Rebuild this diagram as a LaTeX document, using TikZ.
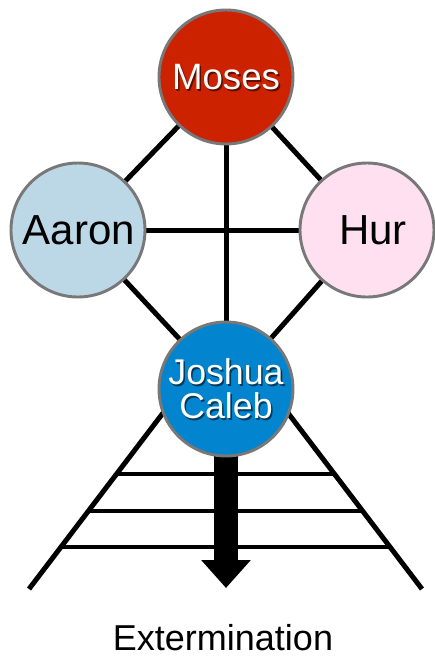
\documentclass[tikz,border=0pt]{standalone}
\usepackage{fontspec}
\setmainfont{Liberation Sans}
\usetikzlibrary{backgrounds,arrows.meta,calc}
\definecolor{mosesred}{RGB}{204,34,0}
\definecolor{aaronblue}{RGB}{188,215,230}
\definecolor{hurpink}{RGB}{255,224,240}
\definecolor{joshblue}{RGB}{2,132,207}
\definecolor{rimgray}{RGB}{120,120,120}
\tikzset{
  person/.style={circle, draw=rimgray, line width=2.2pt, minimum size=100.5pt, inner sep=0pt, align=center},
  link/.style={line width=3.75pt, black},
  rung/.style={line width=3.6pt, black},
  shadowtxt/.style={text=black, opacity=0.55, align=center, inner sep=0pt},
}
\begin{document}
\begin{tikzpicture}[x=0.75pt,y=-0.75pt]
\useasboundingbox (0,0) rectangle (435,658);
% nodes
\node[person, fill=mosesred] (moses) at (226,77) {};
\node[person, fill=aaronblue] (aaron) at (78,230) {};
\node[person, fill=hurpink] (hur) at (367,230) {};
\node[person, fill=joshblue] (joshua) at (226,389) {};
% texts
\node[shadowtxt, font=\fontsize{27.5pt}{30pt}\selectfont] at ($(moses.center)+(1.6,1.6)$) {Moses};
\node[text=white, inner sep=0pt, font=\fontsize{27.5pt}{30pt}\selectfont] (mosestxt) at (moses.center) {Moses};
\node[inner sep=0pt, font=\fontsize{31.5pt}{34pt}\selectfont] (aarontxt) at ($(aaron.center)+(1,0)$) {Aaron};
\node[inner sep=0pt, font=\fontsize{31.5pt}{34pt}\selectfont] (hurtxt) at ($(hur.center)+(6,0)$) {Hur};
\node[shadowtxt, font=\fontsize{26.8pt}{25.5pt}\selectfont] at ($(joshua.center)+(1.6,1.6)$) {Joshua\\Caleb};
\node[text=white, align=center, inner sep=0pt, font=\fontsize{26.8pt}{25.5pt}\selectfont] (joshtxt) at (joshua.center) {Joshua\\Caleb};
\node[anchor=base, inner sep=0pt, font=\fontsize{27pt}{30pt}\selectfont] (ext) at (223,650) {Extermination};
% coordinates for ladder
\coordinate (ltop) at (176.7,395);
\coordinate (lbot) at (29,589);
\coordinate (rtop) at (274.3,395);
\coordinate (rbot) at (422,589);
\coordinate (r1l) at (116.6,474);
\coordinate (r1r) at (334.4,474);
\coordinate (r2l) at (88.4,511);
\coordinate (r2r) at (362.6,511);
\coordinate (r3l) at (61,547);
\coordinate (r3r) at (390,547);
\coordinate (tip) at (226,588);
\begin{pgfonlayer}{background}
  \draw[link] (moses.center) -- (aaron.center);
  \draw[link] (moses.center) -- (hur.center);
  \draw[link] (moses.center) -- (joshua.center);
  \draw[link] (aaron.center) -- (hur.center);
  \draw[link] (aaron.center) -- (joshua.center);
  \draw[link] (hur.center) -- (joshua.center);
  \draw[link] (ltop) -- (lbot);
  \draw[link] (rtop) -- (rbot);
  \draw[rung] (r1l) -- (r1r);
  \draw[rung] (r2l) -- (r2r);
  \draw[rung] (r3l) -- (r3r);
  \draw[line width=18pt, -{Triangle[width=36pt,length=21pt]}] (joshua.center) -- (tip);
\end{pgfonlayer}
\end{tikzpicture}
\end{document}
